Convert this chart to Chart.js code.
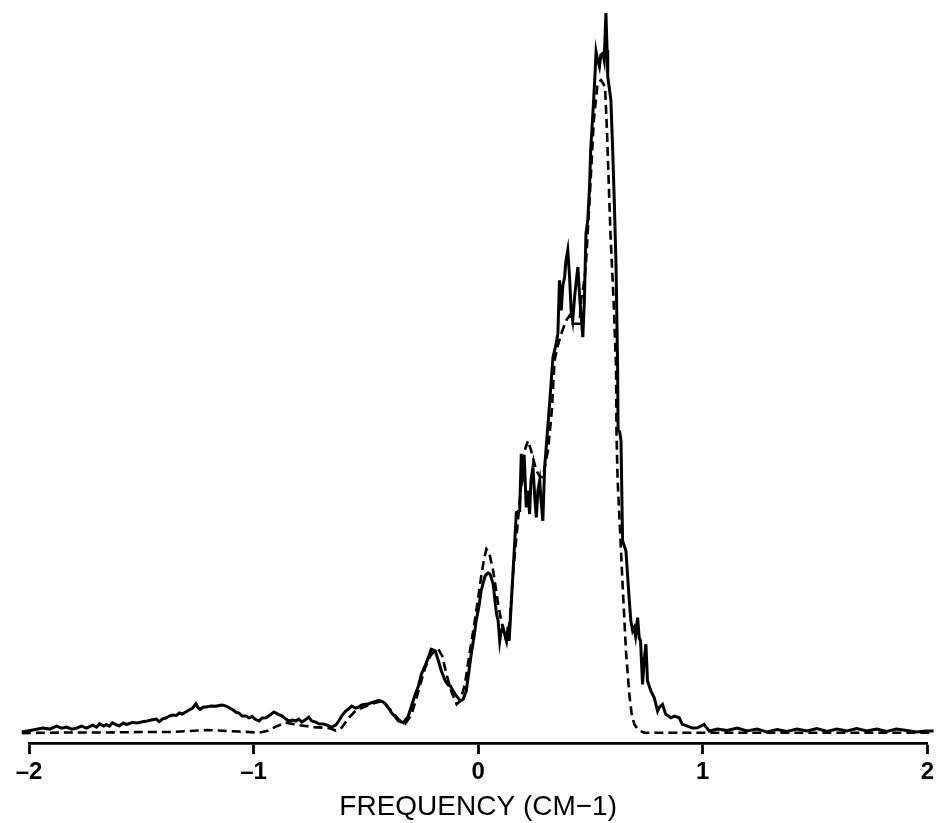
<!DOCTYPE html>
<html>
<head>
<meta charset="utf-8">
<script src="https://cdn.jsdelivr.net/npm/chart.js@4/dist/chart.umd.min.js"></script>
<style>
  html, body { margin: 0; padding: 0; background: #fff; }
  #wrap { position: relative; width: 938px; height: 823px; }
</style>
</head>
<body>
<div id="wrap"><canvas id="c"></canvas></div>
<script>
// Measured spectrum (solid) : frequency (cm-1) and intensity (arb. units)
const expX = [-2.032,-1.983,-1.939,-1.908,-1.877,-1.854,-1.832,-1.810,-1.788,-1.766,-1.744,-1.717,-1.699,-1.686,-1.668,-1.655,-1.642,-1.628,-1.610,-1.597,-1.580,-1.566,-1.553,-1.540,-1.517,-1.495,-1.473,-1.451,-1.433,-1.420,-1.407,-1.389,-1.375,-1.362,-1.344,-1.331,-1.318,-1.300,-1.287,-1.273,-1.257,-1.246,-1.238,-1.224,-1.211,-1.189,-1.167,-1.154,-1.140,-1.122,-1.109,-1.091,-1.078,-1.065,-1.051,-1.034,-1.020,-1.007,-0.994,-0.976,-0.963,-0.945,-0.927,-0.909,-0.892,-0.874,-0.856,-0.843,-0.825,-0.812,-0.799,-0.785,-0.768,-0.754,-0.741,-0.723,-0.710,-0.688,-0.665,-0.652,-0.634,-0.621,-0.608,-0.590,-0.577,-0.563,-0.546,-0.532,-0.519,-0.501,-0.488,-0.475,-0.457,-0.444,-0.426,-0.413,-0.399,-0.386,-0.368,-0.355,-0.333,-0.311,-0.297,-0.280,-0.266,-0.253,-0.235,-0.222,-0.209,-0.191,-0.177,-0.164,-0.146,-0.133,-0.124,-0.111,-0.102,-0.089,-0.080,-0.067,-0.053,-0.044,-0.031,-0.018,-0.009,0.004,0.013,0.031,0.044,0.053,0.067,0.075,0.082,0.089,0.096,0.102,0.111,0.120,0.126,0.133,0.138,0.148,0.163,0.170,0.185,0.192,0.200,0.207,0.214,0.222,0.229,0.235,0.244,0.253,0.259,0.266,0.274,0.280,0.288,0.296,0.303,0.318,0.333,0.346,0.355,0.362,0.370,0.377,0.385,0.390,0.399,0.407,0.414,0.421,0.430,0.444,0.453,0.466,0.473,0.480,0.488,0.496,0.501,0.510,0.519,0.525,0.532,0.540,0.546,0.555,0.561,0.569,0.574,0.577,0.591,0.599,0.606,0.614,0.621,0.623,0.630,0.636,0.643,0.658,0.673,0.680,0.688,0.695,0.701,0.710,0.717,0.723,0.732,0.739,0.747,0.754,0.769,0.784,0.799,0.807,0.821,0.835,0.847,0.858,0.874,0.895,0.909,0.932,0.954,0.976,1.006,1.029,1.065,1.109,1.153,1.198,1.242,1.287,1.331,1.375,1.420,1.464,1.508,1.553,1.597,1.642,1.686,1.730,1.775,1.819,1.863,1.908,1.952,1.996,2.028];
const expY = [0.28,0.56,0.83,0.69,1.11,0.83,0.97,0.69,0.83,1.11,0.83,1.25,0.97,1.43,1.11,1.32,1.11,1.57,1.25,1.15,1.53,1.35,1.46,1.63,1.53,1.71,1.81,1.99,2.08,1.71,2.08,2.26,2.50,2.64,2.57,2.92,2.78,3.10,3.33,3.57,4.21,3.61,3.43,3.75,3.75,3.89,3.85,3.96,4.03,3.89,3.65,3.33,3.01,2.92,2.50,2.50,2.26,2.46,2.08,1.81,2.22,2.26,2.64,3.06,2.78,2.54,2.08,1.81,1.94,1.81,2.08,1.67,2.01,2.36,1.81,1.67,1.43,1.39,1.15,0.97,1.25,1.81,2.50,3.19,3.47,3.89,3.61,3.75,4.03,4.13,4.17,4.35,4.51,4.68,4.51,4.21,3.61,2.96,2.36,1.81,1.57,2.50,3.89,5.51,6.67,8.29,9.58,10.60,11.76,11.53,10.14,8.75,7.36,6.81,6.67,5.97,5.51,5.00,4.58,4.82,5.97,8.06,11.07,13.61,15.69,17.78,19.86,21.94,22.36,22.18,20.79,18.47,16.63,15.69,12.92,14.31,14.76,13.61,12.92,14.86,12.92,18.47,26.81,30.74,30.97,38.85,35.83,36.99,31.43,33.75,30.51,35.14,36.99,32.36,30.04,33.75,35.14,32.36,29.58,36.99,39.76,45.79,52.26,53.89,55.56,62.92,58.75,62.22,63.38,65.42,67.08,63.38,58.75,57.36,60.83,64.76,60.14,55.04,60.14,69.40,71.25,75.88,80.97,85.60,90.69,94.63,93.47,92.54,94.17,94.40,93.47,99.96,94.86,91.15,87.92,80.97,74.03,64.76,50.88,42.08,41.94,40.69,26.81,25.42,18.47,15.69,14.31,14.76,13.61,16.15,13.38,12.92,6.90,10.14,12.46,7.36,5.97,5.04,3.19,3.75,4.13,2.74,2.50,2.26,2.50,2.26,1.35,1.11,0.83,0.88,1.35,0.42,0.69,0.49,0.83,0.42,0.69,0.28,0.63,0.35,0.69,0.42,0.76,0.35,0.69,0.42,0.76,0.42,0.69,0.35,0.69,0.49,0.28,0.42,0.42];

// Calculated spectrum (dashed)
const fitX = [-2.032,-1.863,-1.686,-1.508,-1.375,-1.287,-1.211,-1.154,-1.065,-0.976,-0.941,-0.901,-0.856,-0.799,-0.732,-0.665,-0.634,-0.608,-0.577,-0.547,-0.510,-0.458,-0.429,-0.399,-0.377,-0.355,-0.325,-0.296,-0.266,-0.236,-0.213,-0.191,-0.177,-0.160,-0.141,-0.120,-0.096,-0.080,-0.059,-0.040,-0.015,0.000,0.015,0.027,0.037,0.049,0.067,0.089,0.103,0.115,0.126,0.141,0.155,0.177,0.195,0.207,0.222,0.236,0.259,0.275,0.288,0.311,0.328,0.340,0.355,0.370,0.392,0.408,0.421,0.451,0.458,0.473,0.480,0.496,0.515,0.532,0.547,0.565,0.574,0.589,0.603,0.614,0.616,0.621,0.629,0.643,0.658,0.673,0.683,0.695,0.714,0.740,0.976,1.420,2.028];
const fitY = [0.14,0.21,0.21,0.28,0.28,0.42,0.56,0.49,0.35,0.21,0.42,1.04,1.57,1.25,0.97,0.83,0.49,0.88,2.22,3.19,3.75,4.35,4.58,3.65,2.92,2.04,1.43,2.74,5.97,9.21,10.83,11.67,11.76,10.83,8.29,5.97,4.13,4.58,6.94,10.83,15.69,18.89,22.18,24.44,25.65,25.14,22.64,18.01,15.69,13.89,12.92,15.69,22.18,29.58,35.83,39.31,40.69,39.31,36.53,35.69,35.60,39.31,44.86,51.81,53.89,55.51,57.36,58.06,56.90,56.90,60.14,62.92,65.24,74.03,85.14,90.24,90.69,89.76,83.29,69.40,60.14,50.88,41.67,35.14,30.04,20.79,11.53,5.51,2.92,1.35,0.56,0.18,0.18,0.18,0.18];

const xTicks = [-2, -1, 0, 1, 2];
const xTitle = 'FREQUENCY (CM\u22121)';

const toPts = (xs, ys) => xs.map((x, i) => ({ x: x, y: ys[i] }));

new Chart(document.getElementById('c'), {
  type: 'line',
  data: {
    datasets: [
      {
        label: 'calc',
        data: toPts(fitX, fitY),
        borderColor: '#000',
        borderWidth: 2.6,
        borderDash: [9, 5],
        pointRadius: 0,
        tension: 0,
        fill: false,
        clip: false
      },
      {
        label: 'exp',
        data: toPts(expX, expY),
        borderColor: '#000',
        borderWidth: 3,
        pointRadius: 0,
        tension: 0,
        fill: false,
        clip: false
      }
    ]
  },
  options: {
    responsive: true,
    maintainAspectRatio: false,
    animation: false,
    devicePixelRatio: 1,
    layout: { padding: { left: 29, right: 7, top: 10, bottom: -1.5 } },
    plugins: { legend: { display: false }, tooltip: { enabled: false } },
    scales: {
      x: {
        type: 'linear',
        min: -2,
        max: 2,
        afterBuildTicks: (axis) => { axis.ticks = xTicks.map(v => ({ value: v })); },
        ticks: {
          color: '#000',
          padding: 4,
          maxRotation: 0,
          font: { family: 'Liberation Sans, Arial, sans-serif', size: 24, weight: 'bold' },
          callback: (v) => (v < 0 ? '\u2013' + Math.abs(v) : String(v))
        },
        grid: {
          display: true,
          drawOnChartArea: false,
          drawTicks: true,
          tickLength: 11,
          tickWidth: 2.8,
          tickColor: '#000'
        },
        border: { display: true, color: '#000', width: 2.8 },
        title: {
          display: true,
          text: xTitle,
          color: '#000',
          padding: { top: 0, bottom: 0 },
          font: { family: 'Liberation Sans, Arial, sans-serif', size: 28, weight: 'normal' }
        }
      },
      y: {
        display: false,
        min: -1.25,
        max: 100.4
      }
    }
  }
});
</script>
</body>
</html>
